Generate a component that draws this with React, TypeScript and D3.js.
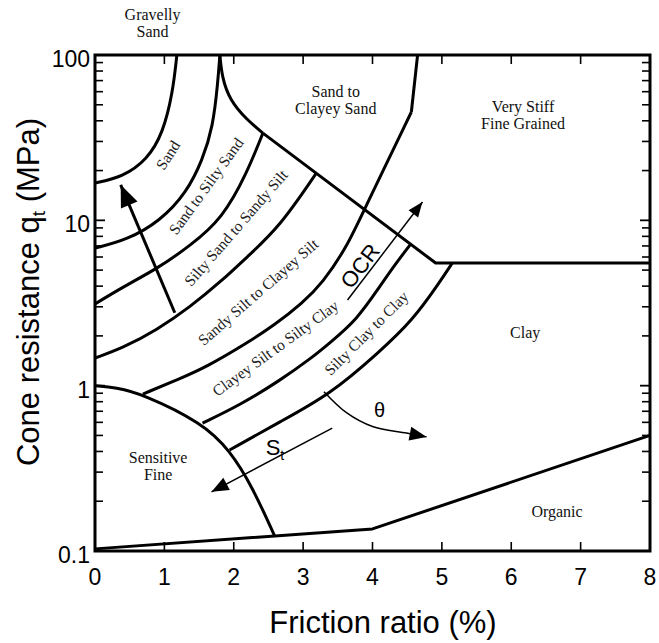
import React from "react";
import * as d3 from "d3";

type Pt = [number, number];

const WIDTH = 659;
const HEIGHT = 643;

// axes
const frictionTicks = [0, 1, 2, 3, 4, 5, 6, 7, 8];
const resistanceTicks = [0.1, 1, 10, 100];
const resistanceTickLabels = ["0.1", "1", "10", "100"];

// zone boundaries as [friction ratio %, cone resistance MPa]
const gravellySandEdge: Pt[] = [[1.18, 100], [1.12, 58.9], [0.98, 33.7], [0.75, 23.2], [0.4, 18.3], [0, 16.8]];
const sandEdge: Pt[] = [[1.8, 100], [1.77, 67.8], [1.7, 36.7], [1.55, 23.2], [1.32, 14.7], [0.94, 9.9], [0.46, 7.6], [0, 6.8]];
const cuspEdge: Pt[] = [[1.8, 100], [1.83, 73.6], [1.94, 53.5], [2.19, 40.5], [2.42, 33.7]];
const stiffEdge: Pt[] = [[2.42, 33.7], [4.91, 5.52], [8, 5.52]];
const siltySandEdge: Pt[] = [[2.42, 33.7], [2.19, 19.3], [1.84, 10.3], [1.37, 7.0], [0.89, 5.08], [0.4, 3.95], [0, 3.12]];
const sandySiltEdge: Pt[] = [[3.19, 19.3], [2.66, 9.12], [2.19, 6.0], [1.84, 4.35], [1.37, 2.99], [0.89, 2.17], [0.4, 1.69], [0, 1.47]];
const clayeySandTop: Pt[] = [[4.65, 100], [4.56, 45.2]];
const clayeySiltEdge: Pt[] = [[4.56, 45.2], [3.88, 11.6], [3.63, 6.9], [3.28, 4.18], [2.99, 3.16], [2.59, 2.33], [2.19, 1.81], [1.61, 1.3], [1.22, 1.1], [0.69, 0.89]];
const siltyClayEdge: Pt[] = [[4.55, 7.18], [4.32, 5.37], [4.1, 3.95], [3.77, 2.49], [3.38, 1.81], [3.14, 1.49], [2.66, 1.07], [2.09, 0.764], [1.55, 0.594]];
const clayEdge: Pt[] = [[5.15, 5.52], [4.96, 4.18], [4.58, 2.49], [4.1, 1.6], [3.38, 0.879], [2.66, 0.603], [1.94, 0.408]];
const sensitiveEdge: Pt[] = [[0, 1.0], [0.3, 0.975], [0.69, 0.89], [1.55, 0.594], [1.94, 0.408], [2.27, 0.244], [2.59, 0.123]];
const organicEdge: Pt[] = [[0, 0.103], [4.0, 0.136], [8, 0.5]];

// trend arrows
const coarseArrow: Pt[] = [[1.15, 2.76], [0.37, 16.4]];
const ocrArrow: Pt[] = [[3.64, 3.3], [4.72, 12.9]];
const sensitivityArrow: Pt[] = [[3.42, 0.554], [1.68, 0.228]];
const voidArrow: Pt[] = [[3.3, 0.92], [3.63, 0.684], [4.0, 0.566], [4.49, 0.517], [4.78, 0.49]];

// zone names
const slantedZones = [
  { text: "Sand", r: 1.05, q: 24.8, angle: -57 },
  { text: "Sand to Silty Sand", r: 1.6, q: 16.1, angle: -54 },
  { text: "Silty Sand to Sandy Silt", r: 2.03, q: 9.0, angle: -49 },
  { text: "Sandy Silt to Clayey Silt", r: 2.35, q: 3.69, angle: -41 },
  { text: "Clayey Silt to Silty Clay", r: 2.6, q: 1.69, angle: -36 },
  { text: "Silty Clay to Clay", r: 3.91, q: 2.08, angle: -45 },
];
const flatZones = [
  { lines: ["Gravelly", "Sand"], r: 0.83, q: 163 },
  { lines: ["Sand to", "Clayey Sand"], r: 3.47, q: 55.7 },
  { lines: ["Very Stiff", "Fine Grained"], r: 6.17, q: 45.2 },
  { lines: ["Clay"], r: 6.2, q: 1.94 },
  { lines: ["Organic"], r: 6.66, q: 0.161 },
  { lines: ["Sensitive", "Fine"], r: 0.91, q: 0.34 },
];

const SANS = "'Liberation Sans', Arial, Helvetica, sans-serif";
const SERIF = "'Liberation Serif', 'Times New Roman', serif";

function head(tip: Pt, from: Pt, len: number, half: number) {
  const dx = tip[0] - from[0];
  const dy = tip[1] - from[1];
  const d = Math.hypot(dx, dy);
  const ux = dx / d;
  const uy = dy / d;
  const bx = tip[0] - ux * len;
  const by = tip[1] - uy * len;
  return `M${tip[0]},${tip[1]}L${bx - uy * half},${by + ux * half}L${bx + uy * half},${by - ux * half}Z`;
}

export default function App() {
  const x = d3.scaleLinear().domain([0, 8]).range([95, 650]);
  const y = d3.scaleLog().domain([0.1, 100]).range([551, 55]);

  const smooth = d3
    .line<Pt>()
    .x((d) => x(d[0]))
    .y((d) => y(d[1]))
    .curve(d3.curveBasis);
  const straight = d3
    .line<Pt>()
    .x((d) => x(d[0]))
    .y((d) => y(d[1]));

  const px = (d: Pt): Pt => [x(d[0]), y(d[1])];

  const minorTicks = y.ticks().filter((v) => !resistanceTicks.some((t) => Math.abs(t - v) < 1e-9));

  const curves = [gravellySandEdge, sandEdge, cuspEdge, siltySandEdge, sandySiltEdge, clayeySiltEdge, siltyClayEdge, clayEdge, sensitiveEdge];
  const lines = [stiffEdge, clayeySandTop, organicEdge];

  const [x0, x1] = x.range();
  const [y0, y1] = y.range();

  // arrow geometry in pixels
  const cTail = px(coarseArrow[0]);
  const cTip = px(coarseArrow[1]);
  const oTail = px(ocrArrow[0]);
  const oTip = px(ocrArrow[1]);
  const sTail = px(sensitivityArrow[0]);
  const sTip = px(sensitivityArrow[1]);
  const vPts = voidArrow.map(px);
  const vTip = vPts[vPts.length - 1];
  const vPrev = vPts[vPts.length - 2];

  return (
    <svg width={WIDTH} height={HEIGHT} style={{ position: "absolute", left: 0, top: 0, background: "#fff" }}>
      <rect width={WIDTH} height={HEIGHT} fill="#fff" />

      {/* frame */}
      <rect x={x0} y={y1} width={x1 - x0} height={y0 - y1} fill="none" stroke="#000" strokeWidth={3} />

      {/* x ticks, top and bottom, inward */}
      {frictionTicks.slice(1, -1).map((t) => (
        <g key={`xt${t}`} stroke="#000" strokeWidth={1.6}>
          <line x1={x(t)} x2={x(t)} y1={y0} y2={y0 - 9} />
          <line x1={x(t)} x2={x(t)} y1={y1} y2={y1 + 9} />
        </g>
      ))}

      {/* y ticks, left and right, inward */}
      {minorTicks.map((t) => (
        <g key={`ym${t}`} stroke="#000" strokeWidth={1.6}>
          <line x1={x0} x2={x0 + 8} y1={y(t)} y2={y(t)} />
          <line x1={x1} x2={x1 - 8} y1={y(t)} y2={y(t)} />
        </g>
      ))}
      {resistanceTicks.map((t) => (
        <g key={`yM${t}`} stroke="#000" strokeWidth={1.8}>
          <line x1={x0} x2={x0 + 10} y1={y(t)} y2={y(t)} />
          <line x1={x1} x2={x1 - 10} y1={y(t)} y2={y(t)} />
        </g>
      ))}

      {/* boundaries */}
      {curves.map((c, i) => (
        <path key={`c${i}`} d={smooth(c) || ""} fill="none" stroke="#000" strokeWidth={3} strokeLinejoin="round" />
      ))}
      {lines.map((c, i) => (
        <path key={`l${i}`} d={straight(c) || ""} fill="none" stroke="#000" strokeWidth={3} strokeLinejoin="round" />
      ))}

      {/* arrows */}
      <line x1={cTail[0]} y1={cTail[1]} x2={cTip[0]} y2={cTip[1]} stroke="#000" strokeWidth={3} />
      <path d={head(cTip, cTail, 22, 9)} fill="#000" />

      <line x1={oTail[0]} y1={oTail[1]} x2={oTip[0]} y2={oTip[1]} stroke="#000" strokeWidth={1.5} />
      <path d={head(oTip, oTail, 15, 6)} fill="#000" />

      <line x1={sTail[0]} y1={sTail[1]} x2={sTip[0]} y2={sTip[1]} stroke="#000" strokeWidth={1.5} />
      <path d={head(sTip, sTail, 17, 7)} fill="#000" />

      <path d={d3.line<Pt>().curve(d3.curveCatmullRom.alpha(0.5))(vPts) || ""} fill="none" stroke="#000" strokeWidth={1.5} />
      <path d={head(vTip, vPrev, 17, 7)} fill="#000" />

      {/* arrow labels */}
      <text
        transform={`translate(${x(3.82)},${y(5.3)}) rotate(-52.6)`}
        textAnchor="middle"
        dy="0.35em"
        fontFamily={SANS}
        fontSize={22}
      >
        OCR
      </text>
      <text x={x(2.46)} y={y(0.381)} fontFamily={SANS} fontSize={22}>
        S<tspan fontSize={14} dy={5}>t</tspan>
      </text>
      <text x={x(4.1)} y={y(0.713)} textAnchor="middle" dy="0.35em" fontFamily={SANS} fontSize={20}>
        θ
      </text>

      {/* zone names */}
      {slantedZones.map((z) => (
        <text
          key={z.text}
          transform={`translate(${x(z.r)},${y(z.q)}) rotate(${z.angle})`}
          textAnchor="middle"
          dy="0.35em"
          fontFamily={SERIF}
          fontSize={15.5}
          fill="#222"
        >
          {z.text}
        </text>
      ))}
      {flatZones.map((z) => (
        <text key={z.lines.join()} x={x(z.r)} y={y(z.q)} textAnchor="middle" fontFamily={SERIF} fontSize={16} fill="#111">
          {z.lines.map((ln, i) => (
            <tspan key={ln} x={x(z.r)} dy={i === 0 ? 0 : 17}>
              {ln}
            </tspan>
          ))}
        </text>
      ))}

      {/* tick labels */}
      {frictionTicks.map((t) => (
        <text key={`xl${t}`} x={x(t)} y={585} textAnchor="middle" fontFamily={SANS} fontSize={23}>
          {t}
        </text>
      ))}
      {resistanceTicks.map((t, i) => (
        <text key={`yl${t}`} x={90} y={y(t) + 12} textAnchor="end" fontFamily={SANS} fontSize={23}>
          {resistanceTickLabels[i]}
        </text>
      ))}

      {/* axis titles */}
      <text x={383} y={633} textAnchor="middle" fontFamily={SANS} fontSize={31}>
        Friction ratio (%)
      </text>
      <text transform="translate(39,292) rotate(-90)" textAnchor="middle" fontFamily={SANS} fontSize={31}>
        Cone resistance q<tspan fontSize={19} dy={6}>t</tspan>
        <tspan dy={-6}> (MPa)</tspan>
      </text>
    </svg>
  );
}
